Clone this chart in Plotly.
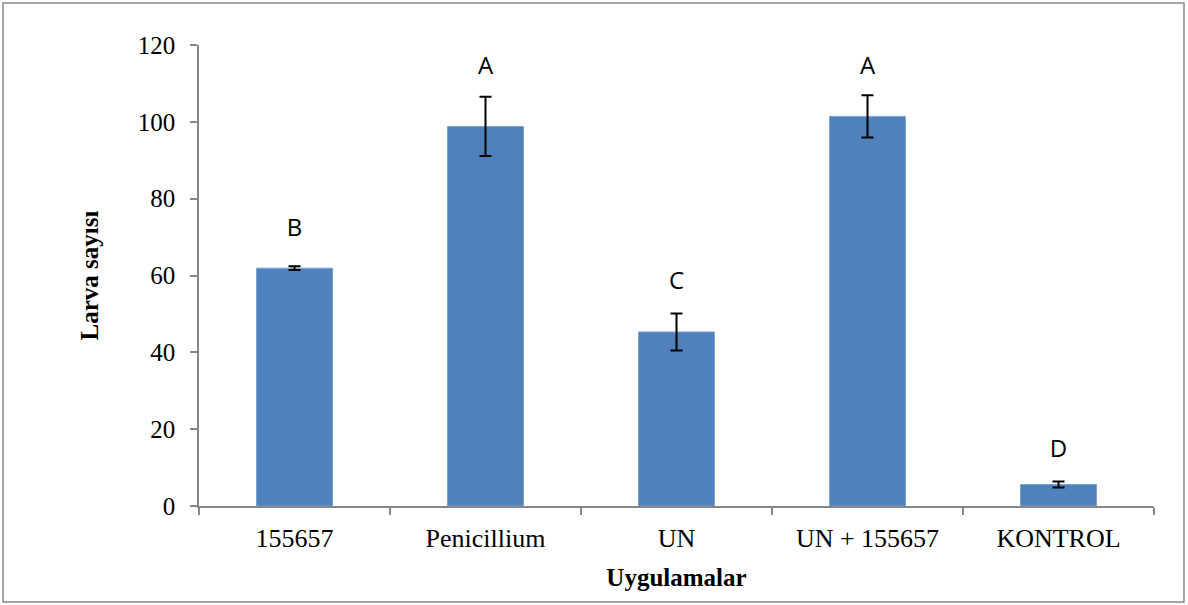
import plotly.graph_objects as go

categories = ["155657", "Penicillium", "UN", "UN + 155657", "KONTROL"]
means = [61.9, 98.8, 45.3, 101.4, 5.6]
errors = [0.5, 7.7, 4.8, 5.5, 0.8]
letters = ["B", "A", "C", "A", "D"]
letter_y = [71.8, 114.0, 58.0, 114.0, 14.3]
y_ticks = [0, 20, 40, 60, 80, 100, 120]

fig = go.Figure()
fig.add_trace(go.Bar(
    x=categories, y=means,
    marker=dict(color="#4F81BD", line=dict(color="#7EA2CE", width=1)),
    error_y=dict(type="data", array=errors, visible=True,
                 color="black", thickness=2, width=6),
    showlegend=False,
))
fig.add_trace(go.Scatter(
    x=categories, y=letter_y, text=letters, mode="text",
    textposition="middle center",
    textfont=dict(family="Open Sans, Liberation Sans, sans-serif", size=24, color="black"),
    showlegend=False, hoverinfo="skip",
))

serif = "Liberation Serif, Times New Roman, serif"
fig.update_layout(
    width=1188, height=605,
    margin=dict(l=199, r=34, t=45, b=99),
    paper_bgcolor="white", plot_bgcolor="white",
    bargap=0.602,
    font=dict(family=serif, size=25, color="black"),
    xaxis=dict(
        type="category", automargin=False,
        showline=True, linecolor="#868686", linewidth=1.5,
        ticks="outside", tickson="boundaries", ticklen=7, tickcolor="#868686", tickwidth=1.5,
        tickfont=dict(family=serif, size=26, color="black"),
        tickangle=0, ticklabelstandoff=8,
        title=dict(text="<b>Uygulamalar</b>", font=dict(family=serif, size=25, color="black"), standoff=17),
        showgrid=False,
    ),
    yaxis=dict(
        range=[0, 120], tickvals=y_ticks, automargin=False,
        showline=True, linecolor="#868686", linewidth=1.5,
        ticks="outside", ticklen=7, tickcolor="#868686", tickwidth=1.5,
        tickfont=dict(family=serif, size=25, color="black"),
        ticklabelstandoff=10,
        title=dict(text="<b>Larva sayısı</b>", font=dict(family=serif, size=25, color="black"), standoff=32),
        showgrid=False, zeroline=False,
    ),
)

fig.add_shape(type="rect", xref="paper", yref="paper",
              x0=-0.2052, x1=1.0314, y0=-0.2082, y1=1.0911,
              line=dict(color="#888888", width=1.5), fillcolor="rgba(0,0,0,0)")

fig.write_html("out.html", config={"displayModeBar": False},
               post_script="document.body.style.margin='0';")
